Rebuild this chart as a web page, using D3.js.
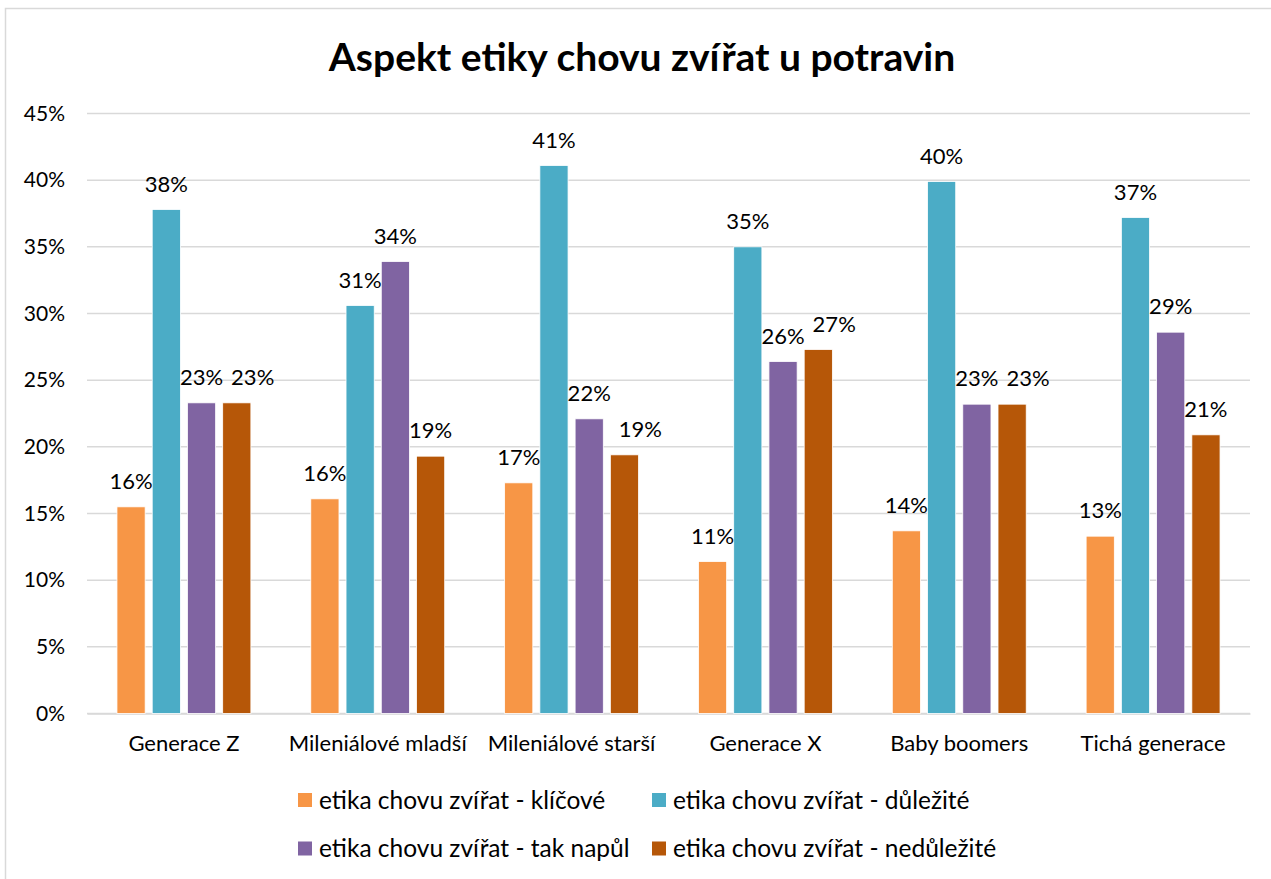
<!DOCTYPE html>
<html>
<head>
<meta charset="utf-8">
<script src="https://cdn.jsdelivr.net/npm/d3@7"></script>
<style>
  body { margin: 0; background: #fff; }
  svg { display: block; font-family: Lato, "Noto Sans", sans-serif; }
</style>
</head>
<body>
<svg width="1271" height="879"></svg>
<script>
// data
var categories = ['Generace Z', 'Mileniálové mladší', 'Mileniálové starší', 'Generace X', 'Baby boomers', 'Tichá generace']
var seriesNames = [
  'etika chovu zvířat - klíčové',
  'etika chovu zvířat - důležité',
  'etika chovu zvířat - tak napůl',
  'etika chovu zvířat - nedůležité'
]
var klicove = [0.155, 0.161, 0.173, 0.114, 0.137, 0.133]
var dulezite = [0.378, 0.306, 0.411, 0.350, 0.399, 0.372]
var takNapul = [0.233, 0.339, 0.221, 0.264, 0.232, 0.286]
var nedulezite = [0.233, 0.193, 0.194, 0.273, 0.232, 0.209]
var yTicks = [0, 0.05, 0.1, 0.15, 0.2, 0.25, 0.3, 0.35, 0.4, 0.45]
var colors = ['#F79646', '#4BACC6', '#8064A2', '#B65708']

var values = [klicove, dulezite, takNapul, nedulezite]
var rows = categories.map((c, i) => ({
  cat: c,
  vals: seriesNames.map((s, j) => ({ key: s, idx: j, value: values[j][i] }))
}))

var svg = d3.select('svg')
var pct = d3.format('.0%')

// chart border
svg.append('rect')
  .attr('x', 5.5).attr('y', 8.5)
  .attr('width', 1300).attr('height', 900)
  .attr('fill', 'none')
  .attr('stroke', '#d9d9d9')
  .attr('stroke-width', 1.5)

// title
svg.append('text')
  .attr('x', 642).attr('y', 71)
  .attr('text-anchor', 'middle')
  .attr('font-size', 39)
  .attr('font-weight', 'bold')
  .attr('fill', '#000')
  .text('Aspekt etiky chovu zvířat u potravin')

// scales
var x0 = d3.scaleBand().domain(categories).range([87, 1250])
var x1 = d3.scaleBand().domain(seriesNames).range([0, x0.bandwidth()])
  .paddingInner(0.2).paddingOuter(0.85)
var y = d3.scaleLinear().domain([0, 0.45]).range([713.5, 113.5])

// gridlines
svg.append('g')
  .selectAll('line')
  .data(yTicks)
  .enter()
  .append('line')
  .attr('x1', 87).attr('x2', 1250)
  .attr('y1', d => y(d)).attr('y2', d => y(d))
  .attr('stroke', '#d9d9d9')
  .attr('stroke-width', 1.5)

// y axis labels
var yAxis = svg.append('g')
  .attr('transform', 'translate(65,0)')
  .call(d3.axisLeft(y).tickValues(yTicks).tickFormat(pct).tickSize(0).tickPadding(0))
yAxis.select('.domain').remove()
yAxis.selectAll('text')
  .attr('font-family', 'Lato, sans-serif')
  .attr('font-size', 21)
  .attr('fill', '#000')

// x axis labels
var xAxis = svg.append('g')
  .attr('transform', 'translate(0,' + y(0) + ')')
  .call(d3.axisBottom(x0).tickSize(0).tickPadding(22))
xAxis.select('.domain')
  .attr('stroke', '#d9d9d9')
  .attr('stroke-width', 1.5)
xAxis.selectAll('text')
  .attr('font-family', 'Lato, sans-serif')
  .attr('font-size', 22)
  .attr('fill', '#000')

// bars
var groups = svg.append('g')
  .selectAll('g')
  .data(rows)
  .enter()
  .append('g')
  .attr('transform', d => 'translate(' + x0(d.cat) + ',0)')

groups.selectAll('rect')
  .data(d => d.vals)
  .enter()
  .append('rect')
  .attr('x', d => x1(d.key))
  .attr('width', x1.bandwidth())
  .attr('y', d => y(d.value))
  .attr('height', d => y(0) - y(d.value))
  .attr('fill', d => colors[d.idx])
  .attr('stroke', '#fff')
  .attr('stroke-width', 0.8)

// data labels, centred above the bar, nudged right when they would collide
groups.each(function() {
  var g = d3.select(this)
  var prev = null
  g.selectAll('text.lbl')
    .data(d => d.vals)
    .enter()
    .append('text')
    .attr('class', 'lbl')
    .attr('text-anchor', 'start')
    .attr('font-size', 22)
    .attr('fill', '#000')
    .attr('y', d => y(d.value) - 18)
    .text(d => pct(d.value))
    .each(function(d) {
      var w = this.getComputedTextLength()
      var left = x1(d.key) + x1.bandwidth() / 2 - w / 2
      var top = y(d.value)
      if (prev && left < prev.right && Math.abs(top - prev.top) < 40) {
        left = prev.right + 8
      }
      d3.select(this).attr('x', left)
      prev = { right: left + w, top: top }
    })
})

// legend
var legendX = [298, 652]
var legendY = [800, 848.5]
var legend = svg.append('g')
  .selectAll('g')
  .data(seriesNames)
  .enter()
  .append('g')
  .attr('transform', (d, i) => 'translate(' + legendX[i % 2] + ',' + legendY[Math.floor(i / 2)] + ')')

legend.append('rect')
  .attr('x', 0).attr('y', -7)
  .attr('width', 14).attr('height', 14)
  .attr('fill', (d, i) => colors[i])

legend.append('text')
  .attr('x', 21).attr('y', 0)
  .attr('dy', '0.35em')
  .attr('font-size', 24.5)
  .attr('fill', '#000')
  .text(d => d)
</script>
</body>
</html>
